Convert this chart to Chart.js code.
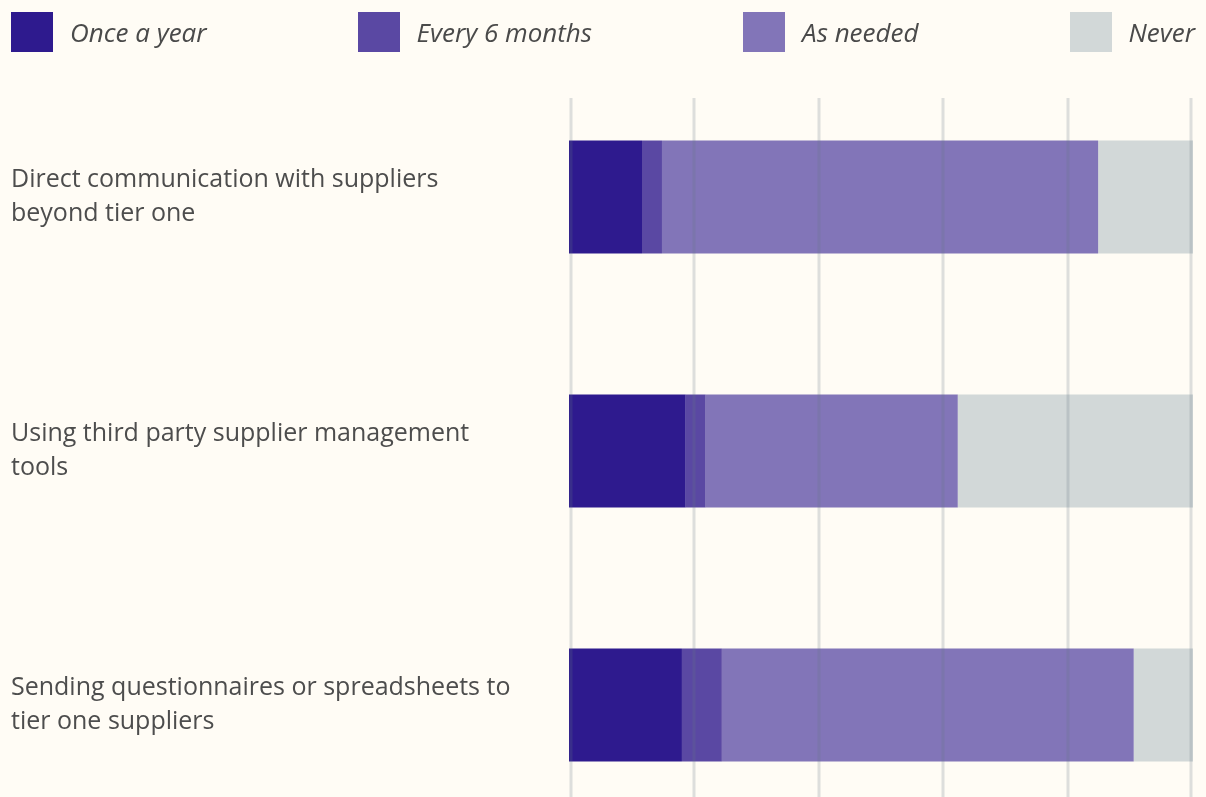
<!DOCTYPE html>
<html>
<head>
<meta charset="utf-8">
<script src="https://cdn.jsdelivr.net/npm/chart.js@4/dist/chart.umd.min.js"></script>
<style>
  html, body { margin: 0; padding: 0; background: #fffcf5; overflow: hidden; }
  #wrap { position: absolute; left: 0; top: 0; width: 1206px; height: 869px; }
  #legend {
    position: absolute; left: 11px; right: 11px; top: 12px; height: 40px;
    display: flex; justify-content: space-between; align-items: center;
    font-family: "Open Sans", sans-serif; font-style: italic; font-size: 26px; color: #4a4a4a;
  }
  #legend .item { display: flex; align-items: center; }
  #legend .box { width: 42px; height: 40px; margin-right: 17px; }
</style>
</head>
<body>
<div id="wrap"><canvas id="chart" width="1206" height="869"></canvas></div>
<div id="legend"></div>
<script>
// categories (y axis), multi-line labels
const categories = [
    ['Direct communication with suppliers', 'beyond tier one'],
    ['Using third party supplier management', 'tools'],
    ['Sending questionnaires or spreadsheets to', 'tier one suppliers']
];

// share of respondents, percent
const onceAYear = [11.7, 18.7, 18.1];
const every6Months = [3.2, 3.2, 6.4];
const asNeeded = [69.9, 40.4, 66.0];
const never = [15.2, 37.7, 9.5];

const seriesNames = ['Once a year', 'Every 6 months', 'As needed', 'Never'];
const seriesColors = ['#2e1a8e', '#5a48a3', '#8275b8', '#d2d8d8'];
const xTicks = [0, 20, 40, 60, 80, 100];

// grid lines are drawn over the bars, starting a bit below the chart top
const gridOnTop = {
    id: 'gridOnTop',
    afterDatasetsDraw(chart) {
        const ctx = chart.ctx;
        const xs = chart.scales.x;
        ctx.save();
        ctx.strokeStyle = 'rgba(100,120,130,0.22)';
        ctx.lineWidth = 3;
        for (const t of xTicks) {
            let x = Math.round(xs.getPixelForValue(t));
            if (t === 0) x += 2;
            if (t === 100) x -= 2;
            ctx.beginPath();
            ctx.moveTo(x, 98);
            ctx.lineTo(x, 800);
            ctx.stroke();
        }
        ctx.restore();
    }
};

const values = [onceAYear, every6Months, asNeeded, never];
const datasets = seriesNames.map((name, i) => ({
    label: name,
    data: values[i],
    backgroundColor: seriesColors[i],
    borderWidth: 0,
    barPercentage: 0.445,
    categoryPercentage: 1
}));

// html legend, spread across the width
const legendEl = document.getElementById('legend');
seriesNames.forEach((name, i) => {
    const item = document.createElement('div');
    item.className = 'item';
    item.innerHTML = '<div class="box" style="background:' + seriesColors[i] + '"></div><span>' + name + '</span>';
    legendEl.appendChild(item);
});

const ctx = document.getElementById('chart').getContext('2d');
new Chart(ctx, {
    type: 'bar',
    data: { labels: categories, datasets: datasets },
    plugins: [gridOnTop],
    options: {
        indexAxis: 'y',
        responsive: false,
        animation: false,
        layout: { padding: { left: 11, right: 13, top: 70, bottom: 8 } },
        plugins: {
            legend: { display: false },
            tooltip: { enabled: false }
        },
        scales: {
            x: {
                stacked: true,
                display: false,
                min: 0,
                max: 100
            },
            y: {
                stacked: true,
                border: { display: false },
                grid: { display: false },
                afterFit(scale) { scale.width = 558; },
                ticks: {
                    crossAlign: 'far',
                    color: '#4d4d4d',
                    font: { family: 'Open Sans', size: 25, lineHeight: '34px' }
                }
            }
        }
    }
});
</script>
</body>
</html>
